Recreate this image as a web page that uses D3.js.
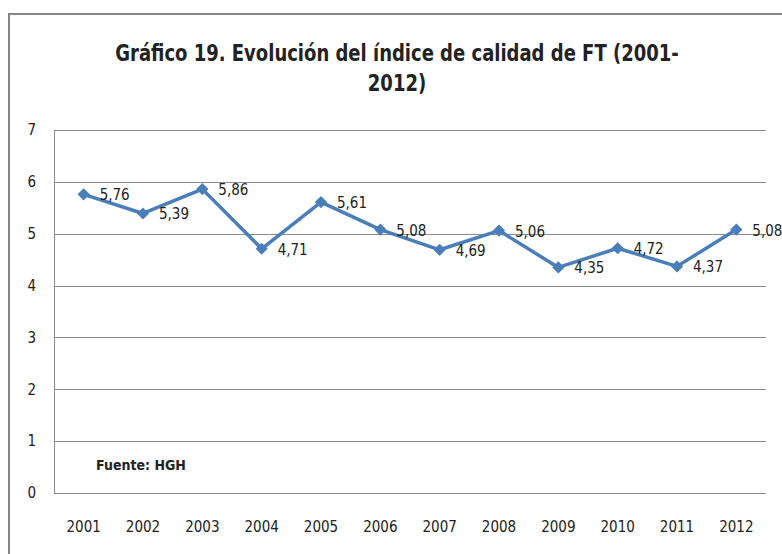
<!DOCTYPE html>
<html>
<head>
<meta charset="utf-8">
<script src="https://cdn.jsdelivr.net/npm/d3@7"></script>
<style>
  body { margin: 0; background: #fff; }
  text { font-family: "DejaVu Sans Condensed", "DejaVu Sans", sans-serif; fill: #222; }
</style>
</head>
<body>
<script>
var years = ['2001', '2002', '2003', '2004', '2005', '2006', '2007', '2008', '2009', '2010', '2011', '2012'];
var values = [5.76, 5.39, 5.86, 4.71, 5.61, 5.08, 4.69, 5.06, 4.35, 4.72, 4.37, 5.08];
var yTicks = [0, 1, 2, 3, 4, 5, 6, 7];
var titleLines = ['Gráfico 19. Evolución del índice de calidad de FT (2001-', '2012)'];
var source = 'Fuente: HGH';

var width = 782,
    height = 554;

var margin = {top: 130, left: 54, right: 16, bottom: 61};

var svg = d3.select('body')
  .append('svg')
  .attr('width', width)
  .attr('height', height);

// outer chart frame
svg.append('rect')
  .attr('x', 9)
  .attr('y', 14)
  .attr('width', width + 20)
  .attr('height', height + 20)
  .attr('fill', '#fff')
  .attr('stroke', '#868686')
  .attr('stroke-width', 2);

// title is squeezed a bit to mimic the narrow office font
svg.selectAll('.title')
  .data(titleLines)
  .enter().append('text')
  .attr('class', 'title')
  .attr('transform', function(d, i) { return 'translate(397,' + (61 + i * 30) + ') scale(0.87,1)'; })
  .attr('text-anchor', 'middle')
  .attr('font-size', 23)
  .attr('font-weight', 'bold')
  .text(function(d) { return d; });

var x = d3.scaleBand()
  .domain(years)
  .range([margin.left, width - margin.right]);

var y = d3.scaleLinear()
  .domain([0, 7])
  .range([height - margin.bottom, margin.top]);

// gridlines
svg.append('g')
  .selectAll('line')
  .data(yTicks)
  .enter().append('line')
  .attr('x1', margin.left)
  .attr('x2', width - margin.right)
  .attr('y1', function(d) { return Math.round(y(d)) + 0.5; })
  .attr('y2', function(d) { return Math.round(y(d)) + 0.5; })
  .attr('stroke', '#8c8c8c')
  .attr('stroke-width', 1);

svg.append('line')
  .attr('x1', margin.left + 0.5)
  .attr('x2', margin.left + 0.5)
  .attr('y1', Math.round(y(7)))
  .attr('y2', Math.round(y(0)) + 1)
  .attr('stroke', '#8c8c8c');

var yAxis = d3.axisLeft(y).tickValues(yTicks).tickFormat(d3.format('d')).tickSize(0).tickPadding(18);
svg.append('g')
  .attr('transform', 'translate(' + margin.left + ',0)')
  .call(yAxis)
  .call(function(g) { g.select('.domain').remove(); })
  .selectAll('text')
  .attr('font-size', 15)
  .attr('font-family', null);

var xAxis = d3.axisBottom(x).tickSize(0).tickPadding(28);
svg.append('g')
  .attr('transform', 'translate(0,' + y(0) + ')')
  .call(xAxis)
  .call(function(g) { g.select('.domain').remove(); })
  .selectAll('text')
  .attr('font-size', 15)
  .attr('font-family', null);

var line = d3.line()
  .x(function(d, i) { return x(years[i]) + x.bandwidth() / 2; })
  .y(function(d) { return y(d); });

svg.append('path')
  .datum(values)
  .attr('d', line)
  .attr('fill', 'none')
  .attr('stroke', '#4a7ebb')
  .attr('stroke-width', 3.5)
  .attr('stroke-linejoin', 'round');

svg.selectAll('.marker')
  .data(values)
  .enter().append('path')
  .attr('class', 'marker')
  .attr('d', d3.symbol().type(d3.symbolDiamond2).size(95))
  .attr('transform', function(d, i) {
    return 'translate(' + (x(years[i]) + x.bandwidth() / 2) + ',' + y(d) + ')';
  })
  .attr('fill', '#4a7ebb');

svg.selectAll('.label')
  .data(values)
  .enter().append('text')
  .attr('class', 'label')
  .attr('x', function(d, i) { return x(years[i]) + x.bandwidth() / 2 + 16; })
  .attr('y', function(d) { return y(d) + 6; })
  .attr('font-size', 15)
  .text(function(d) { return d.toFixed(2).replace('.', ','); });

svg.append('text')
  .attr('x', 96)
  .attr('y', 470)
  .attr('font-size', 14)
  .attr('font-weight', 'bold')
  .text(source);
</script>
</body>
</html>
